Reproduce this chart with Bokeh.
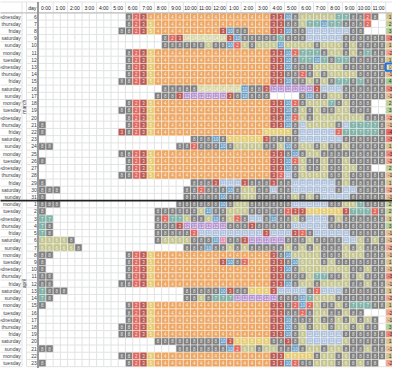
from math import pi
from bokeh.plotting import figure
from bokeh.models import ColumnDataSource, Range1d
from bokeh.core.properties import value
from bokeh.embed import file_html
from bokeh.resources import INLINE

# ---------------- data ----------------
weekday_labels = [
    "wednesday", "thursday", "friday", "saturday", "sunday", "monday", "tuesday",
    "wednesday", "thursday", "friday", "saturday", "sunday", "monday", "tuesday",
    "wednesday", "thursday", "friday", "saturday", "sunday", "monday", "tuesday",
    "wednesday", "thursday", "friday", "saturday", "sunday",
    "monday", "tuesday", "wednesday", "thursday", "friday", "saturday", "sunday",
    "monday", "tuesday", "wednesday", "thursday", "friday", "saturday", "sunday",
    "monday", "tuesday", "wednesday", "thursday", "friday", "saturday", "sunday",
    "monday", "tuesday",
]
day_numbers = [6, 7, 8, 9, 10, 11, 12, 13, 14, 15, 16, 17, 18, 19, 20, 21, 22, 23,
               24, 25, 26, 27, 28, 29, 30, 31,
               1, 2, 3, 4, 5, 6, 7, 8, 9, 10, 11, 12, 13, 14, 15, 16, 17, 18, 19,
               20, 21, 22, 23]
month_names = ["march", "april"]
month_lengths = [26, 23]
hour_labels = ["0:00", "1:00", "2:00", "3:00", "4:00", "5:00", "6:00", "7:00",
               "8:00", "9:00", "10:00", "11:00", "12:00", "1:00", "2:00", "3:00",
               "4:00", "5:00", "6:00", "7:00", "8:00", "9:00", "10:00", "11:00"]

# one character per half-hour slot: "." empty, digits = code, A=10 B=11 C=12 D=13 E=14
W2 = "823544444444"
activity_rows = [
    "............" + "823444444444" + "4444444433A8" + "66666778828.",
    "............" + W2 + "444444443388" + "677A778882..",
    "...........8" + W2 + "43A8844433A8" + "8BBBBBB88...",
    "............" + ".....823EEEE" + "EE3A88888788" + "8BBBBB888888",
    "............" + ".....8888886" + "88A268666A66" + "668666868888",
    "............" + W2 + "4444444433A2" + "777866868788",
    "............" + W2 + "4444444433A8" + "77A787788888",
    "............" + W2 + "4444444433A8" + "886666888888",
    "............" + W2 + "444444443388" + "286866668888",
    "...........8" + W2 + "4444444433A8" + "868687787888",
    "............" + ".....88888EE" + "EEEEA883CCCC" + "CC3BBB888888",
    "............" + "....8883CCCC" + "CC38A888...." + "8A8866888888",
    "............" + W2 + "4444444433A2" + "8666786888..",
    "...........8" + W2 + "4444444433A8" + "6868866888..",
    "............" + W2 + "4444444433A2" + "686666666888",
    "8..........." + W2 + "4444444433A8" + "B66668B77778",
    "8..........3" + W2 + "444444455558" + "BBBBB2777778",
    "............" + ".........888" + "A85555538888" + "BBBBBB888888",
    "88.........." + ".......88288" + "8A86666886A8" + "668688688888",
    "...........8" + W2 + "44444444338A" + "866888888888",
    "8..........." + W2 + "4444444433A2" + "688688688888",
    "............" + W2 + "4444444433A8" + "6886886688..",
    "...........8" + W2 + "4444444432B8" + "666688688888",
    "8..........." + ".........888" + "3BBB3888388B" + "BBBBB8688888",
    "888........." + "........8828" + "88A86688B88B" + "BBBBB8BB8888",
    "8..........." + "........8888" + "8A8866888886" + "868BBBB88888",
    "888........." + ".......88888" + "8A866888888B" + "BBBB88667888",
    "8..........." + "....8888886A" + "886668888823" + "355555377728",
    "77.........." + "....82776886" + "A8628BB8A886" + "8BBB86888888",
    "78.........." + "....8883CCCC" + "CC888388888B" + "BBBB88888888",
    "78.........." + "....888882BB" + "BBBBBBB3BBB3" + "28BBBBB88888",
    "66668......." + "....86666888" + "AD883CCCCC88" + "868888BB6868",
    "666668......" + "........888A" + "886868888868" + "686888686888",
    "88.........." + W2 + "4444444438A6" + "666888666888",
    "8..........." + W2 + "43A82444338A" + "666868888888",
    "8..........." + W2 + "4444444433A8" + "666666688688",
    "88.........." + W2 + "444444443388" + "867788686888",
    "88.........8" + W2 + "4444444433A8" + "668666688688",
    "7888........" + "........8888" + "8A3885553BBB" + "B82BBB888888",
    "78.........." + "........8868" + "777CCCCCC888" + "A76668888888",
    "8..........." + W2 + "444444443382" + "A26886877788",
    "............" + W2 + "444444443388" + "286688688...",
    "............" + W2 + "4444444433A8" + "88688686868.",
    "...........8" + W2 + "4444444433A8" + "68668668688.",
    "...........8" + W2 + "4444444433A8" + "6BBBBB888888",
    "............" + "....88888888" + "8A3555558838" + "6BBBBB688888",
    "88.........." + ".......88888" + "88A26686688A" + "866866888688",
    "...........8" + W2 + "444444443355" + "558668688888",
    "8..........." + W2 + "4444444433A2" + "88666868688.",
]

balance_values = [1, 2, 3, -3, 1, -2, 1, 0, -1, 4, -3,
                  -1, 2, 3, -2, -1, -4, -3, 1, -3, -2, 2, -1, 1, -2,
                  -1, 2, 2, 1, 3, -1, -1, -2, -1, 1, -1, -3, -1, 1, -2,
                  1, -2, -1, 3, -3, 1, -1, 1, -2]
selected_row = 7

code_text = {"8": "8", "2": "2", "3": "3", "4": "4", "5": "5", "6": "6", "7": "7",
             "A": "10", "B": "11", "C": "12", "D": "13", "E": "14"}
code_color = {"8": "#808080", "2": "#e06a5f", "3": "#bb5a52", "4": "#eda763",
              "5": "#e5cd74", "6": "#c3c48e", "7": "#82b3a9", "A": "#6d9fc5",
              "B": "#adc0da", "C": "#b592d0", "D": "#d98bb0", "E": "#d7d5a3"}
balance_color = {-4: "#e06c64", -3: "#e8877d", -2: "#eda58f", -1: "#e3bc93",
                 0: "#f3e3b5", 1: "#d6c490", 2: "#c4cf98", 3: "#b1d09a", 4: "#9fcb93"}

# ---------------- layout (reference pixel geometry) ----------------
PX0, CW, PY0, RH = 46.2, 7.23, 20.4, 7.22


def cx(px):
    return (px - PX0) / CW


def ry(py):
    return (py - PY0) / RH


N_ROWS = len(activity_rows)
N_SLOTS = 48
A_L, AB, BC = cx(0), cx(29.5), cx(34.0)
AZ_L, AZ_R = float(N_SLOTS), cx(402.0)
HDR_T = ry(9.5)
FONT = value("Liberation Sans")
GRID = "#e2e3e3"

p = figure(width=392, height=368,
           x_range=Range1d(cx(8), cx(400)), y_range=Range1d(ry(376), ry(8)),
           output_backend="svg", toolbar_location=None,
           x_axis_location=None, y_axis_location=None, min_border=0,
           outline_line_color=None, background_fill_color="white",
           border_fill_color="white")
p.grid.visible = False

# ---- sheet grid lines ----
hx0, hy0, hx1, hy1 = [], [], [], []
for k in range(N_ROWS + 1):
    hx0 += [A_L, BC]; hx1 += [AB, AZ_R + 3]; hy0 += [k, k]; hy1 += [k, k]
hx0.append(A_L); hx1.append(AZ_R + 3); hy0.append(HDR_T); hy1.append(HDR_T)
vx = [AB, BC] + list(range(1, N_SLOTS + 1)) + [AZ_R]
p.segment(x0=vx, y0=[0] * len(vx), x1=vx, y1=[N_ROWS] * len(vx),
          line_color=GRID, line_width=1)
p.segment(x0=hx0, y0=hy0, x1=hx1, y1=hy1, line_color=GRID, line_width=1)
hv = [AB, BC] + list(range(2, N_SLOTS + 1, 2)) + [AZ_R]
p.segment(x0=hv, y0=[HDR_T] * len(hv), x1=hv, y1=[0] * len(hv),
          line_color=GRID, line_width=1)

# ---- activity cells ----
cells = dict(x=[], y=[], color=[], label=[])
for r, row in enumerate(activity_rows):
    row = (row + "." * N_SLOTS)[:N_SLOTS]
    for c, ch in enumerate(row):
        if ch in code_color:
            cells["x"].append(c + 0.5)
            cells["y"].append(r + 0.5)
            cells["color"].append(code_color[ch])
            cells["label"].append(code_text[ch])
src = ColumnDataSource(cells)
p.rect(x="x", y="y", width=1, height=1, source=src, fill_color="color",
       line_color="white", line_alpha=0.45, line_width=1)
p.text(x="x", y="y", text="label", source=src, text_align="center",
       text_baseline="middle", text_font=FONT, text_font_size=value("4.5px"),
       text_color="white", text_alpha=0.85)

# ---- balance column (AZ) ----
bal = ColumnDataSource(dict(
    x=[(AZ_L + AZ_R) / 2] * N_ROWS,
    y=[r + 0.5 for r in range(N_ROWS)],
    color=[balance_color[v] for v in balance_values],
    label=[str(v) for v in balance_values]))
p.rect(x="x", y="y", width=AZ_R - AZ_L, height=1, source=bal,
       fill_color="color", line_color="white", line_alpha=0.5, line_width=1)
p.text(x="x", y="y", text="label", source=bal, text_align="center",
       text_baseline="middle", text_font=FONT, text_font_size=value("5px"),
       text_color="#333333")
p.rect(x=[(AZ_L + AZ_R) / 2], y=[selected_row + 0.5], width=AZ_R - AZ_L, height=1,
       fill_alpha=0, line_color="#1a73e8", line_width=2)

# ---- frozen-pane and month separator lines ----
p.segment(x0=[A_L], y0=[0], x1=[AZ_R + 3], y1=[0], line_color="#b5b5b5", line_width=1)
p.segment(x0=[-0.1], y0=[HDR_T], x1=[-0.1], y1=[N_ROWS + 1],
          line_color="#9a9a9a", line_width=2)
p.segment(x0=[A_L], y0=[month_lengths[0]], x1=[AZ_R], y1=[month_lengths[0]],
          line_color="#222222", line_width=1.6)

# ---- row labels ----
rows_src = ColumnDataSource(dict(
    y=[r + 0.5 for r in range(N_ROWS)],
    wd=weekday_labels, dn=[str(d) for d in day_numbers],
    xw=[cx(28.2)] * N_ROWS, xd=[cx(44.3)] * N_ROWS))
p.text(x="xw", y="y", text="wd", source=rows_src, text_align="right",
       text_baseline="middle", text_font=FONT, text_font_size=value("5px"),
       text_color="#3c4043")
p.text(x="xd", y="y", text="dn", source=rows_src, text_align="right",
       text_baseline="middle", text_font=FONT, text_font_size=value("5px"),
       text_color="#3c4043")

starts = [0, month_lengths[0]]
p.text(x=[(AB + BC) / 2] * 2, y=[s + n / 2 for s, n in zip(starts, month_lengths)],
       text=month_names, angle=pi / 2, text_align="center", text_baseline="middle",
       text_font=FONT, text_font_size=value("5px"), text_color="#3c4043")

# ---- header row (times) ----
p.text(x=[2 * h + 1 for h in range(len(hour_labels))], y=[ry(15)] * len(hour_labels),
       text=hour_labels, text_align="center", text_baseline="middle",
       text_font=FONT, text_font_size=value("5px"), text_color="#202124")
p.text(x=[cx(43.8)], y=[ry(15)], text=["day"], text_align="right",
       text_baseline="middle", text_font=FONT, text_font_size=value("5px"),
       text_color="#202124")

open("out.html", "w").write(file_html(p, INLINE))
